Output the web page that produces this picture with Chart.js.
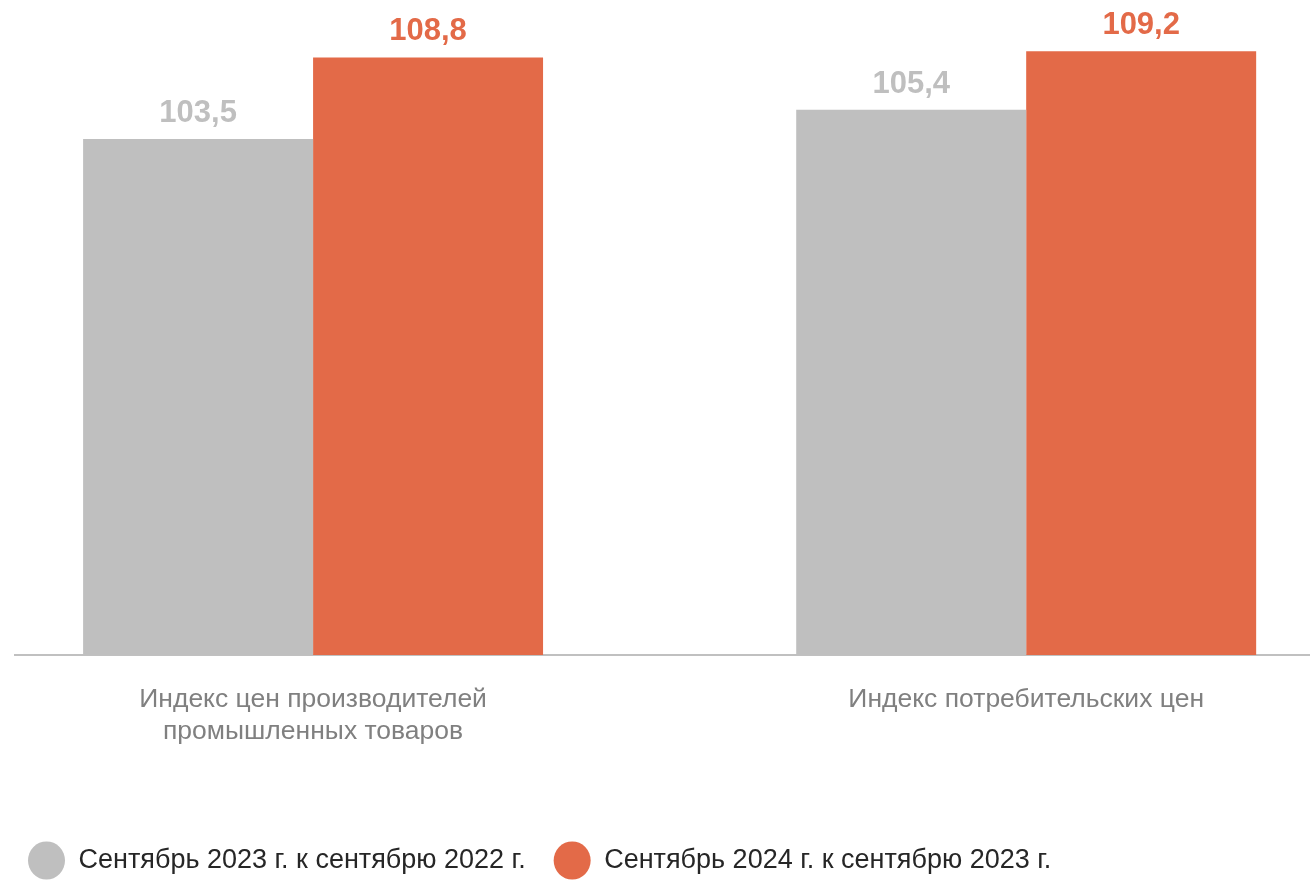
<!DOCTYPE html>
<html>
<head>
<meta charset="utf-8">
<script src="https://cdn.jsdelivr.net/npm/chart.js@4"></script>
<style>
  body { margin: 0; background: #fff; }
  #wrap { width: 1310px; height: 884px; }
</style>
</head>
<body>
<div id="wrap"><canvas id="indexChart"></canvas></div>
<script>
const categories = [["Индекс цен производителей", "промышленных товаров"], "Индекс потребительских цен"];
const seriesNames = ["Сентябрь 2023 г. к сентябрю 2022 г.", "Сентябрь 2024 г. к сентябрю 2023 г."];
const values2023 = [103.5, 105.4];
const values2024 = [108.8, 109.2];
const seriesColors = ["#bfbfbf", "#e36a48"];

// x positions of the categories on a linear axis (middle of each slot)
const positions = categories.map((c, i) => i + 0.5);

const fontFamily = '"Liberation Sans", Arial, sans-serif';

// values above the bars, with a comma as decimal sign
const valueLabels = {
  id: 'valueLabels',
  afterDatasetsDraw(chart) {
    const ctx = chart.ctx;
    ctx.save();
    ctx.font = 'bold 31px ' + fontFamily;
    ctx.textAlign = 'center';
    ctx.textBaseline = 'alphabetic';
    chart.data.datasets.forEach((ds, i) => {
      ctx.fillStyle = ds.backgroundColor;
      chart.getDatasetMeta(i).data.forEach((bar, j) => {
        ctx.fillText(ds.data[j].y.toFixed(1).replace('.', ','), bar.x, bar.y - 17);
      });
    });
    ctx.restore();
  }
};

const ctx = document.getElementById('indexChart').getContext('2d');
new Chart(ctx, {
  type: 'bar',
  data: {
    datasets: [
      {
        label: seriesNames[0],
        data: positions.map((x, i) => ({ x: x, y: values2023[i] })),
        backgroundColor: seriesColors[0]
      },
      {
        label: seriesNames[1],
        data: positions.map((x, i) => ({ x: x, y: values2024[i] })),
        backgroundColor: seriesColors[1]
      }
    ]
  },
  options: {
    responsive: true,
    maintainAspectRatio: false,
    animation: false,
    barPercentage: 1,
    categoryPercentage: 0.645,
    layout: { padding: { top: 39, left: 0, right: 0, bottom: 0 } },
    plugins: {
      tooltip: { enabled: false },
      legend: {
        position: 'bottom',
        align: 'start',
        labels: {
          usePointStyle: true,
          pointStyle: 'circle',
          pointStyleWidth: 37,
          padding: 28,
          color: '#262626',
          font: { family: fontFamily, size: 27 }
        }
      }
    },
    scales: {
      x: {
        type: 'linear',
        offset: false,
        min: 0.082,
        max: 1.898,
        afterBuildTicks: axis => { axis.ticks = positions.map(v => ({ value: v })); },
        afterFit: axis => { axis.height = 164; },
        grid: { display: false, drawTicks: false },
        border: { display: true, color: '#c0c0c0', width: 2 },
        ticks: {
          autoSkip: false,
          maxRotation: 0,
          padding: 29,
          color: '#808080',
          font: { family: fontFamily, size: 26.5, lineHeight: 1.2 },
          callback: value => categories[Math.round(value - 0.5)]
        }
      },
      y: {
        min: 70,
        max: 110,
        afterFit: axis => { axis.width = 15; },
        grid: { display: false },
        border: { display: false },
        ticks: { display: false }
      }
    }
  },
  plugins: [valueLabels]
});
</script>
</body>
</html>
